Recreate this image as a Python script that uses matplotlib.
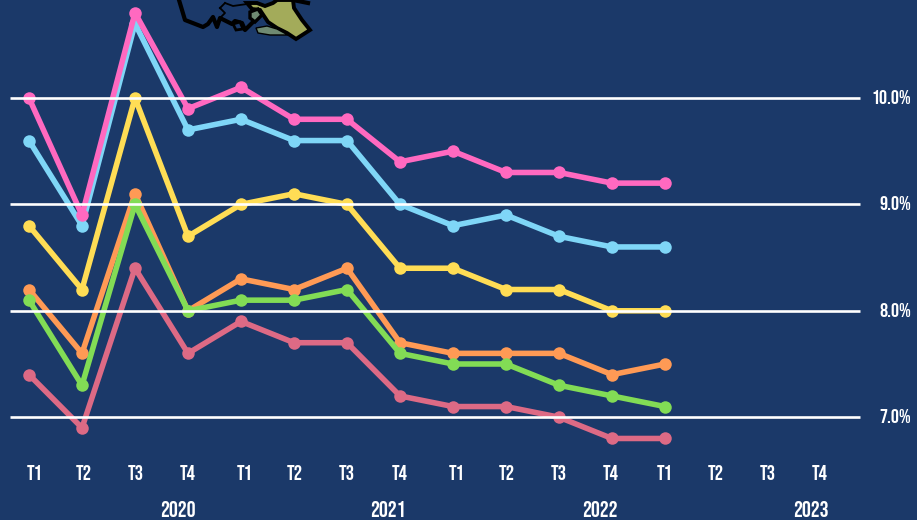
#!/usr/bin/env python3
# -*- coding: utf-8 -*-
import matplotlib
matplotlib.use('Agg')
import matplotlib.pyplot as plt
from matplotlib.patches import Polygon
from matplotlib.transforms import Affine2D

plt.rcParams['font.family'] = ['Bebas Neue', 'Oswald', 'Archivo Narrow', 'Liberation Sans', 'DejaVu Sans']

bg = '#1b3969'

pink = [10.0, 8.9, 10.8, 9.9, 10.1, 9.8, 9.8, 9.4, 9.5, 9.3, 9.3, 9.2, 9.2]
blue = [9.6, 8.8, 10.7, 9.7, 9.8, 9.6, 9.6, 9.0, 8.8, 8.9, 8.7, 8.6, 8.6]
yellow = [8.8, 8.2, 10.0, 8.7, 9.0, 9.1, 9.0, 8.4, 8.4, 8.2, 8.2, 8.0, 8.0]
orange = [8.2, 7.6, 9.1, 8.0, 8.3, 8.2, 8.4, 7.7, 7.6, 7.6, 7.6, 7.4, 7.5]
green = [8.1, 7.3, 9.0, 8.0, 8.1, 8.1, 8.2, 7.6, 7.5, 7.5, 7.3, 7.2, 7.1]
rose = [7.4, 6.9, 8.4, 7.6, 7.9, 7.7, 7.7, 7.2, 7.1, 7.1, 7.0, 6.8, 6.8]

quarters = ['T1', 'T2', 'T3', 'T4'] * 4
years = ['2020', '2021', '2022', '2023']
yticks = [7.0, 8.0, 9.0, 10.0]

# label places in picture pixels, they are not evenly spaced in the original
quarter_px = [35, 84, 136, 188, 245, 295, 347, 400, 457, 507, 559, 611, 665, 716, 768, 820]
year_px = [178, 388, 600, 811]

# map fragment at the top, in picture pixels
outline = [(179, 0), (185, 20), (203, 27), (208, 24), (213, 17), (217, 27), (220, 18),
           (232, 24), (235, 21), (242, 23), (245, 30), (252, 23)]
top_edge = [(293, 0), (308, 3)]
thin1 = [(220, 8), (225, 3)]
thin2 = [(220, 8), (225, 13), (220, 18)]
thin3 = [(225, 3), (233, 6), (247, 4)]
small_ring = [(233, 24), (240, 22), (243, 29), (236, 30)]
olive = [(247, 3), (257, 3), (265, 6), (273, 3), (277, 0), (293, 0), (294, 8), (302, 20),
         (310, 30), (296, 39), (287, 33), (277, 28), (268, 22), (260, 10), (252, 9)]
olive_ring = [(250, 12), (258, 9), (262, 15), (255, 22), (250, 18)]
sage = [(256, 28), (267, 26), (277, 29), (288, 35), (270, 35), (258, 33)]

fig = plt.figure(figsize=(9.17, 5.2), dpi=100, facecolor=bg)
ax = fig.add_axes([0, 0, 1, 1], facecolor=bg)
# one quarter is 53 px and one point is 106.4 px
ax.set_xlim(-29 / 53, (917 - 29) / 53)
ax.set_ylim(10 - (520 - 98) / 106.4, 10 + 98 / 106.4)
ax.axis('off')
px = Affine2D().scale(1, -1).translate(0, 520)

x = list(range(len(pink)))
for vals, col in [(blue, '#7fd6f7'), (pink, '#ff69c0'), (yellow, '#ffdd55'),
                  (orange, '#ff9a55'), (green, '#82dc55'), (rose, '#dd6a85')]:
    ax.plot(x, vals, color=col, lw=4, marker='o', ms=9, mew=0, zorder=2,
            solid_joinstyle='round', clip_on=False)
ax.hlines(yticks, (10 - 29) / 53, (860 - 29) / 53, color='white', lw=1.9, zorder=3)

for y in yticks:
    ax.text(911, 97 + (10 - y) * 106.4, '%.1f%%' % y, color='white', fontsize=14.5,
            ha='right', va='center', transform=px)
for xp, q in zip(quarter_px, quarters):
    ax.text(xp, 472, q, color='white', fontsize=15, ha='center', va='center', transform=px)
for xp, yr in zip(year_px, years):
    ax.text(xp, 509, yr, color='white', fontsize=16, ha='center', va='center', transform=px)

for pts, w in [(outline, 3), (top_edge, 3), (thin1, 1.3), (thin2, 1.3), (thin3, 1.3)]:
    ax.plot(*zip(*pts), color='black', lw=w, transform=px, solid_joinstyle='round', zorder=4)
ax.add_patch(Polygon(olive, closed=True, fc='#a3ab5a', ec='black', lw=2.8, transform=px, zorder=4))
ax.add_patch(Polygon(sage, closed=True, fc='#6f8a72', ec='black', lw=1, transform=px, zorder=4))
ax.add_patch(Polygon(olive_ring, closed=True, fc='#6f8a72', ec='black', lw=2.4, transform=px, zorder=5))
ax.add_patch(Polygon(small_ring, closed=True, fc=bg, ec='black', lw=2, transform=px, zorder=5))

fig.savefig('out.png', dpi=100, facecolor=bg)
